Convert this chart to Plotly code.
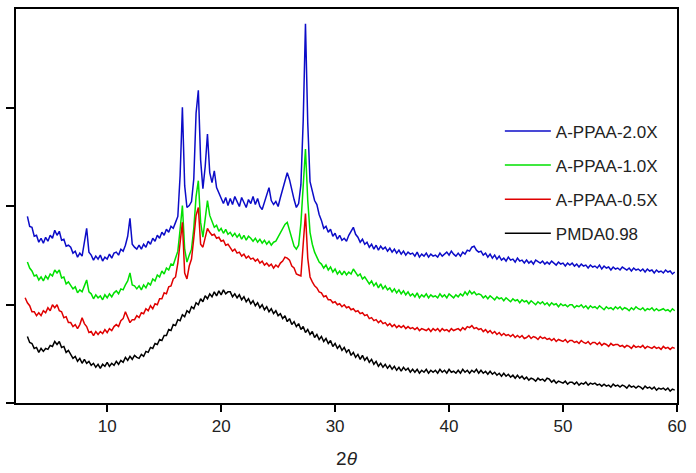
import numpy as np
import plotly.graph_objects as go

# diffractometer step: 0.2 deg from 2.8 to 59.8
two_theta = np.round(np.arange(2.8, 59.81, 0.2), 1)

# intensities (arbitrary units, axis 0..397)
i_20 = [None, 188, 178, 177, 168, 169, 162, 166, 161, 167,
        163, 169, 166, 174, 169, 173, 164, 165, 158, 159,
        157, 151, 153, 147, 151, 148, 160, 176, 152, 149,
        144, 148, 145, 149, 143, 147, 145, 150, 146, 151,
        152, 149, 155, 153, 159, 168, 186, 160, 157, 155,
        159, 155, 160, 157, 163, 160, 166, 163, 169, 166,
        172, 169, 175, 172, 178, 176, 182, 188, 229, 298,
        219, 197, 199, 203, 226, 292, 315, 245, 216, 238,
        271, 232, 222, 234, 217, 211, 205, 201, 207, 199,
        206, 200, 208, 203, 198, 207, 202, 197, 205, 201,
        208, 200, 206, 198, 195, 203, 210, 217, 204, 200,
        203, 198, 207, 216, 226, 232, 225, 213, 205, 197,
        201, 220, 284, 382, 282, 223, 213, 204, 200, 190,
        184, 176, 178, 172, 175, 168, 171, 165, 169, 164,
        166, 163, 169, 173, 177, 170, 167, 162, 165, 160,
        162, 157, 160, 155, 159, 154, 158, 155, 157, 153,
        156, 152, 155, 151, 154, 150, 153, 149, 152, 150,
        151, 148, 152, 147, 150, 148, 151, 147, 150, 148,
        149, 147, 151, 148, 150, 152, 149, 153, 150, 148,
        151, 148, 152, 150, 154, 153, 157, 158, 154, 152,
        153, 149, 151, 147, 150, 146, 149, 145, 148, 144,
        146, 143, 147, 144, 145, 142, 146, 143, 144, 141,
        144, 141, 143, 140, 144, 142, 141, 143, 140, 142,
        140, 143, 141, 139, 142, 140, 141, 138, 141, 139,
        141, 138, 140, 137, 140, 138, 139, 136, 139, 137,
        138, 136, 139, 135, 138, 136, 137, 134, 137, 135,
        136, 134, 137, 135, 134, 136, 133, 136, 134, 135,
        133, 135, 132, 135, 133, 134, 131, 134, 132, 133,
        131, 134, 132, 133, 130, 132]

i_10 = [None, 142, 136, 133, 128, 129, 124, 127, 123, 128,
        125, 130, 128, 134, 131, 134, 126, 127, 120, 122,
        119, 115, 117, 111, 114, 112, 118, 124, 112, 110,
        105, 109, 106, 108, 104, 109, 106, 110, 107, 111,
        113, 110, 115, 114, 119, 123, 131, 119, 118, 115,
        118, 114, 119, 116, 121, 119, 125, 123, 129, 127,
        133, 130, 136, 134, 140, 139, 146, 153, 175, 199,
        155, 142, 149, 155, 176, 208, 224, 182, 167, 186,
        204, 189, 183, 177, 179, 173, 176, 171, 175, 170,
        172, 168, 171, 167, 170, 165, 169, 164, 168, 166,
        163, 166, 162, 165, 161, 164, 160, 163, 159, 162,
        163, 167, 171, 176, 180, 182, 173, 165, 158, 155,
        159, 181, 214, 256, 204, 172, 160, 152, 147, 142,
        140, 136, 139, 134, 137, 132, 135, 130, 133, 129,
        133, 129, 132, 130, 135, 132, 128, 130, 125, 127,
        124, 120, 123, 118, 121, 116, 120, 115, 118, 114,
        116, 112, 115, 111, 114, 110, 113, 109, 112, 108,
        110, 107, 111, 106, 109, 107, 110, 106, 109, 107,
        108, 106, 110, 107, 109, 106, 110, 108, 106, 109,
        107, 110, 108, 112, 109, 113, 110, 112, 109, 110,
        109, 106, 108, 105, 108, 106, 104, 107, 105, 106,
        103, 106, 104, 102, 105, 103, 104, 101, 104, 102,
        103, 100, 103, 101, 99, 102, 100, 102, 99, 101,
        98, 101, 99, 100, 97, 100, 98, 99, 97, 99,
        99, 96, 98, 97, 99, 96, 98, 95, 98, 96,
        97, 95, 98, 96, 94, 97, 95, 96, 94, 97,
        95, 97, 94, 96, 95, 93, 96, 94, 97, 95,
        94, 96, 93, 95, 94, 96, 93, 95, 93, 94,
        95, 93, 94, 92, 95, 93]

i_05 = [106, 101, 98, 92, 92, 88, 91, 88, 93, 91,
        96, 93, 99, 96, 99, 93, 92, 86, 87, 81,
        81, 77, 79, 75, 79, 86, 80, 77, 71, 72,
        68, 72, 69, 72, 70, 74, 71, 75, 73, 77,
        79, 77, 83, 85, 92, 86, 81, 84, 84, 88,
        86, 91, 90, 95, 93, 98, 95, 100, 99, 105,
        105, 111, 110, 117, 118, 125, 127, 141, 165, 182,
        131, 125, 138, 145, 166, 189, 197, 160, 157, 167,
        176, 172, 169, 170, 166, 167, 163, 164, 159, 160,
        157, 153, 155, 151, 152, 148, 150, 146, 148, 145,
        146, 143, 145, 141, 143, 139, 141, 138, 140, 136,
        139, 137, 141, 143, 147, 146, 144, 138, 136, 130,
        129, 128, 160, 191, 146, 127, 122, 118, 116, 112,
        111, 107, 108, 104, 104, 101, 102, 99, 100, 97,
        99, 96, 97, 94, 95, 92, 93, 90, 91, 88,
        89, 85, 86, 83, 84, 81, 83, 80, 81, 78,
        80, 77, 79, 76, 78, 76, 78, 75, 77, 75,
        76, 74, 76, 73, 75, 74, 73, 75, 72, 75,
        73, 75, 72, 75, 73, 74, 72, 75, 73, 74,
        75, 73, 76, 74, 77, 76, 78, 75, 76, 74,
        75, 72, 74, 71, 73, 70, 72, 69, 71, 68,
        70, 68, 69, 67, 69, 66, 68, 66, 68, 65,
        66, 68, 65, 67, 66, 64, 67, 65, 66, 64,
        65, 63, 65, 62, 64, 63, 62, 64, 61, 63,
        63, 61, 62, 60, 63, 61, 60, 62, 59, 61,
        61, 59, 61, 58, 60, 59, 57, 60, 58, 59,
        59, 57, 58, 56, 58, 57, 55, 58, 56, 57,
        56, 58, 55, 57, 56, 55, 57, 55, 56, 54,
        57, 55, 56, 54, 56, 55]

i_pmda = [None, 67, 61, 60, 55, 56, 51, 55, 52, 55,
          54, 58, 57, 62, 59, 62, 56, 57, 51, 53,
          49, 45, 47, 42, 45, 40, 44, 40, 42, 38,
          40, 36, 39, 35, 39, 37, 41, 37, 40, 38,
          42, 39, 43, 41, 46, 43, 47, 44, 48, 46,
          45, 49, 47, 52, 51, 56, 55, 60, 59, 64,
          63, 68, 68, 74, 73, 79, 78, 84, 83, 89,
          87, 93, 91, 97, 95, 101, 99, 105, 102, 108,
          105, 110, 107, 112, 108, 113, 109, 114, 110, 112,
          112, 107, 110, 106, 109, 104, 107, 102, 105, 100,
          103, 98, 101, 96, 99, 94, 97, 92, 95, 90,
          93, 88, 90, 85, 88, 82, 85, 79, 82, 77,
          80, 74, 77, 71, 74, 69, 72, 66, 69, 64,
          67, 62, 65, 60, 63, 57, 60, 55, 58, 53,
          56, 51, 54, 48, 51, 46, 49, 44, 48, 43,
          46, 41, 44, 39, 42, 37, 40, 36, 39, 35,
          38, 34, 37, 33, 36, 32, 36, 33, 35, 31,
          34, 31, 34, 30, 33, 31, 34, 30, 33, 31,
          33, 30, 34, 31, 33, 30, 34, 31, 32, 30,
          33, 30, 34, 31, 33, 30, 33, 31, 34, 30,
          33, 30, 32, 29, 32, 29, 31, 28, 30, 27,
          30, 27, 29, 26, 28, 25, 28, 25, 27, 24,
          26, 23, 25, 24, 22, 25, 23, 24, 22, 25,
          24, 21, 23, 20, 22, 21, 20, 22, 19, 21,
          21, 19, 21, 18, 20, 19, 21, 18, 20, 19,
          20, 18, 19, 17, 19, 17, 18, 16, 19, 17,
          18, 16, 18, 17, 15, 18, 16, 17, 15, 17,
          16, 14, 17, 15, 16, 14, 16, 13, 15, 14,
          15, 13, 15, 12, 14, 13]

names = ["A-PPAA-2.0X", "A-PPAA-1.0X", "A-PPAA-0.5X", "PMDA0.98"]
colors = ["#0c0cc8", "#00e000", "#e00000", "#000000"]
x_ticks = [10, 20, 30, 40, 50, 60]

fig = go.Figure()
for name, ys, color in zip(names, [i_20, i_10, i_05, i_pmda], colors):
    fig.add_trace(go.Scatter(
        x=two_theta, y=ys, mode="lines", name=name, legendgroup=name,
        line=dict(color=color, width=1.5),
    ))

fig.update_layout(
    width=696, height=473,
    margin=dict(l=16, r=19, t=7, b=69),
    paper_bgcolor="white", plot_bgcolor="white",
    font=dict(family="Arial, Liberation Sans, sans-serif", size=17, color="#222"),
    legend=dict(
        x=0.732, y=0.735, xanchor="left", yanchor="top",
        bgcolor="rgba(0,0,0,0)", font=dict(size=17),
        tracegroupgap=9, itemwidth=46,
    ),
)
fig.update_xaxes(
    range=[2, 60], tickvals=x_ticks,
    ticks="outside", ticklen=7, tickwidth=1.5, tickcolor="black",
    showline=True, linecolor="black", linewidth=2, mirror=True,
    showgrid=False, zeroline=False,
    title=dict(text="2<i>θ</i>", font=dict(size=19), standoff=16),
)
fig.update_yaxes(
    range=[0, 397], tickvals=[0, 99.25, 198.5, 297.75],
    ticks="outside", ticklen=8, tickwidth=1.5, tickcolor="black",
    showticklabels=False,
    showline=True, linecolor="black", linewidth=2, mirror=True,
    showgrid=False, zeroline=False,
)

# the page body has an 8px default margin; drop it so the plot sits at 0,0
fig.write_html("out.html", config={"displayModeBar": False},
               post_script="document.body.style.margin='0';")
